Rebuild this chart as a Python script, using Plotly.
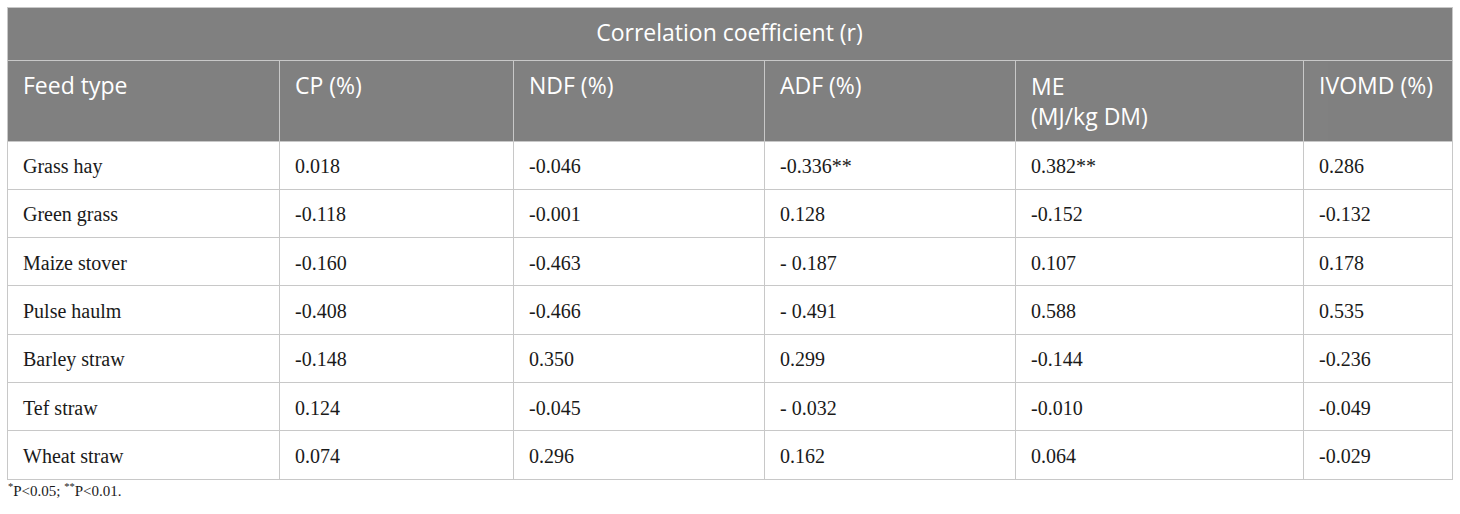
import plotly.graph_objects as go

# table contents
title_text = "Correlation coefficient (r)"
columns = ["Feed type", "CP (%)", "NDF (%)", "ADF (%)", "ME<br>(MJ/kg DM)", "IVOMD (%)"]
feed_type = ["Grass hay", "Green grass", "Maize stover", "Pulse haulm",
             "Barley straw", "Tef straw", "Wheat straw"]
cp = ["0.018", "-0.118", "-0.160", "-0.408", "-0.148", "0.124", "0.074"]
ndf = ["-0.046", "-0.001", "-0.463", "-0.466", "0.350", "-0.045", "0.296"]
adf = ["-0.336**", "0.128", "- 0.187", "- 0.491", "0.299", "- 0.032", "0.162"]
me = ["0.382**", "-0.152", "0.107", "0.588", "-0.144", "-0.010", "0.064"]
ivomd = ["0.286", "-0.132", "0.178", "0.535", "-0.236", "-0.049", "-0.029"]
footnote = "<sup>*</sup>P&lt;0.05; <sup>**</sup>P&lt;0.01."

W, H = 1460, 514
gray = "#808080"
grid = "#c8c8c8"
sans = "Open Sans"
serif = "Liberation Serif"
ink = "#1a1a1a"
widths = [272, 234, 251, 251, 288, 149]
edges = [7, 279, 513, 764, 1015, 1303, 1452]
shift = 9   # plotly tables put text at the top of a cell, push it down a bit
indent = 8  # and a little more left padding than plotly's default


def px(x0, x1):
    return [x0 / W, x1 / W]


def py(top, bottom):
    return [1 - bottom / H, 1 - top / H]


body = [feed_type, cp, ndf, adf, me, ivomd]
blank_body = [["" for _ in col] for col in body]
head_txt = [c if "<br>" not in c else "" for c in columns]
clear = "rgba(0,0,0,0)"

fig = go.Figure()

# title row: grid + fill, then the text layer
fig.add_trace(go.Table(
    domain=dict(x=px(7, 1452), y=py(7, 61)),
    header=dict(values=[""], height=53, fill_color=gray,
                line=dict(color=grid, width=1)),
    cells=dict(values=[[]], height=1, line=dict(width=0)),
))
fig.add_trace(go.Table(
    domain=dict(x=px(7, 1452), y=py(7 + shift, 70)),
    header=dict(values=[title_text], height=53, align="center",
                fill_color=clear, line=dict(width=0),
                font=dict(family=sans, size=23, color="white")),
    cells=dict(values=[[]], height=1, line=dict(width=0)),
))

# main table: grid + fills
fig.add_trace(go.Table(
    domain=dict(x=px(7, 1452), y=py(60, 482)),
    columnwidth=widths,
    header=dict(values=["" for _ in columns], height=81, fill_color=gray,
                line=dict(color=grid, width=1)),
    cells=dict(values=blank_body, height=48.3, fill_color="white",
               line=dict(color=grid, width=1)),
))
# main table: text layer
fig.add_trace(go.Table(
    domain=dict(x=px(7 + indent, 1452 + indent), y=py(60 + shift, 479 + shift + 2)),
    columnwidth=widths,
    header=dict(values=head_txt, height=81, align="left",
                fill_color=clear, line=dict(width=0),
                font=dict(family=sans, size=23, color="white")),
    cells=dict(values=body, height=48.3, align="left",
               fill_color=clear, line=dict(width=0),
               font=dict(family=serif, size=20, color=ink)),
))
# the two-line header sits lower in plotly, so it gets its own layer
k = columns.index(next(c for c in columns if "<br>" in c))
fig.add_trace(go.Table(
    domain=dict(x=px(edges[k] + indent, edges[k + 1] + indent), y=py(60 + 2, 141 + 2)),
    header=dict(values=[columns[k]], height=81, align="left",
                fill_color=clear, line=dict(width=0),
                font=dict(family=sans, size=23, color="white")),
    cells=dict(values=[[]], height=1, line=dict(width=0)),
))

fig.add_annotation(text=footnote, x=6 / W, y=1 - 490 / H,
                   xref="paper", yref="paper", xanchor="left", yanchor="middle",
                   showarrow=False, font=dict(family=serif, size=15, color=ink))

fig.update_layout(width=W, height=H, margin=dict(l=0, r=0, t=0, b=0),
                  paper_bgcolor="white", plot_bgcolor="white")

fig.write_html("out.html", config={"displayModeBar": False},
               post_script="document.body.style.margin='0';")
